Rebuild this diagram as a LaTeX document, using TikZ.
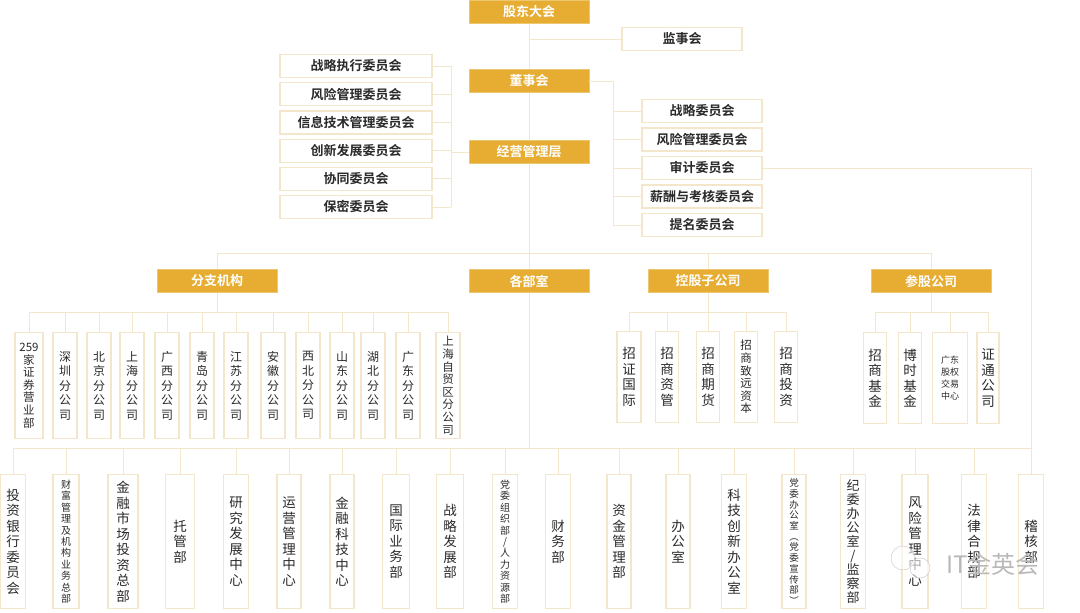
\documentclass[tikz,border=0pt]{standalone}
\usepackage{fontspec}
\setmainfont{Noto Sans CJK SC}[BoldFont={Noto Sans CJK SC Bold}]
\definecolor{goldc}{HTML}{E6AD32}
\definecolor{linec}{HTML}{F4E6CB}
\definecolor{txtc}{HTML}{2A2A2A}

\tikzset{
  conn/.style={draw=linec, line width=1pt},
  goldbox/.style={fill=goldc, draw=goldc!70!white, text=white, inner sep=0pt,
    minimum width=120pt, minimum height=23pt, font=\bfseries\fontsize{13}{13}\selectfont},
  combox/.style={draw=linec, line width=1.2pt, fill=white, text=txtc, inner sep=0pt,
    minimum height=23pt, font=\bfseries\fontsize{13}{13}\selectfont},
  vbox/.style={draw=linec, line width=1.2pt, fill=white, text=txtc, anchor=north,
    align=center, inner sep=0pt},
  vmid/.style={font=\fontsize{12}{14.5}\selectfont},
  vlong/.style={font=\fontsize{11.5}{12.6}\selectfont},
  vtall/.style={font=\fontsize{13}{14}\selectfont},
  vbig/.style={font=\fontsize{13.5}{15.5}\selectfont},
  vsmall/.style={font=\fontsize{10}{11.4}\selectfont},
  vxsmall/.style={font=\fontsize{9.5}{10.7}\selectfont},
  vtiny/.style={font=\fontsize{9}{12}\selectfont}
}

\begin{document}
\begin{tikzpicture}[x=1pt,y=-1pt]
\useasboundingbox (0,0) rectangle (1080,613);

% governance
\node[goldbox] (gd) at (529,12) {股东大会};
\node[combox, minimum width=120pt] (jsh) at (682,39) {监事会};
\node[goldbox] (dsh) at (529,81) {董事会};
\node[goldbox] (jy) at (529,152) {经营管理层};

\foreach \t [count=\i] in {战略执行委员会,风险管理委员会,信息技术管理委员会,创新发展委员会,协同委员会,保密委员会} {
    \node[combox, minimum width=152pt] (lc\i) at (356,66+\i*28.2-28.2) {\t};
}
\foreach \t [count=\i] in {战略委员会,风险管理委员会,审计委员会,薪酬与考核委员会,提名委员会} {
    \node[combox, minimum width=120pt] (rc\i) at (702,111+\i*28.5-28.5) {\t};
}

% second level
\node[goldbox] (fz) at (217,281) {分支机构};
\node[goldbox] (bm) at (529,281) {各部室};
\node[goldbox] (kg) at (708,281) {控股子公司};
\node[goldbox] (cg) at (931,281) {参股公司};

% branches
\foreach \t/\x/\w/\s [count=\i] in {{259\\家\\证\\券\\营\\业\\部}/29/28/vlong, {深\\圳\\分\\公\\司}/65/24/vmid,
    {北\\京\\分\\公\\司}/99/24/vmid, {上\\海\\分\\公\\司}/132/24/vmid, {广\\西\\分\\公\\司}/167/24/vmid,
    {青\\岛\\分\\公\\司}/202/24/vmid, {江\\苏\\分\\公\\司}/236/24/vmid, {安\\徽\\分\\公\\司}/273/24/vmid,
    {西\\北\\分\\公\\司}/308/24/vmid, {山\\东\\分\\公\\司}/342/24/vmid, {湖\\北\\分\\公\\司}/373/24/vmid,
    {广\\东\\分\\公\\司}/408/24/vmid, {上\\海\\自\\贸\\区\\分\\公\\司}/448/24/vlong} {
    \node[vbox, \s, minimum width=\w pt, minimum height=106pt] (br\i) at (\x,332) {\t};
}

% subsidiaries
\foreach \t/\x/\w/\s [count=\i] in {{招\\证\\国\\际}/629/24/vbig, {招\\商\\资\\管}/667/23/vbig,
    {招\\商\\期\\货}/708/23/vbig, {招\\商\\致\\远\\资\\本}/746/23/vlong, {招\\商\\投\\资}/786/23/vbig} {
    \node[vbox, \s, minimum width=\w pt, minimum height=91pt] (kz\i) at (\x,331) {\t};
}
\foreach \t/\x/\w/\s [count=\i] in {{招\\商\\基\\金}/875/23/vbig, {博\\时\\基\\金}/910/23/vbig,
    {广东\\股权\\交易\\中心}/950/35/vtiny, {证\\通\\公\\司}/988/22/vbig} {
    \node[vbox, \s, minimum width=\w pt, minimum height=91pt] (cz\i) at (\x,332) {\t};
}

% departments
\foreach \t/\x/\w/\s [count=\i] in {{投\\资\\银\\行\\委\\员\\会}/13/25/vbig,
    {财\\富\\管\\理\\及\\机\\构\\业\\务\\总\\部}/66/26/vsmall,
    {金\\融\\市\\场\\投\\资\\总\\部}/123/30/vbig, {托\\管\\部}/180/29/vbig,
    {研\\究\\发\\展\\中\\心}/236/25/vbig, {运\\营\\管\\理\\中\\心}/289/24/vbig,
    {金\\融\\科\\技\\中\\心}/342/24/vbig, {国\\际\\业\\务\\部}/396/27/vbig,
    {战\\略\\发\\展\\部}/450/27/vbig, {党\\委\\组\\织\\部\\/\\人\\力\\资\\源\\部}/505/25/vsmall,
    {财\\务\\部}/558/25/vbig, {资\\金\\管\\理\\部}/619/24/vbig, {办\\公\\室}/678/24/vbig,
    {科\\技\\创\\新\\办\\公\\室}/734/25/vbig,
    {党\\委\\办\\公\\室\\︵\\党\\委\\宣\\传\\部\\︶}/794/24/vxsmall,
    {纪\\委\\办\\公\\室\\/\\监\\察\\部}/853/25/vtall, {风\\险\\管\\理\\中\\心}/915/26/vbig,
    {法\\律\\合\\规\\部}/974/25/vbig, {稽\\核\\部}/1031/25/vbig} {
    \node[vbox, \s, minimum width=\w pt, minimum height=134pt] (d\i) at (\x,474) {\t};
}

% connectors
\coordinate (lbus) at (451,0);
\coordinate (rbus) at (613,0);
\coordinate (rside) at (1031,0);
\coordinate (b2) at (0,253);
\coordinate (b3) at (0,312);
\coordinate (b4) at (0,448);

\draw[conn] (gd) -- (dsh) -- (jy) -- (bm);
\draw[conn] (jsh.west) -- (jsh.west -| gd);
\foreach \i in {1,...,6} {
    \draw[conn] (lc\i.east) -- (lc\i.east -| lbus);
}
\draw[conn] (lc1.east -| lbus) -- (lc6.east -| lbus);
\draw[conn] (jy.west) -- (jy.west -| lbus);
\draw[conn] (dsh.east) -- (dsh.east -| rbus) -- (rc5.west -| rbus);
\foreach \i in {1,...,5} {
    \draw[conn] (rc\i.west) -- (rc\i.west -| rbus);
}
\draw[conn] (rc3.east) -- (rc3.east -| rside) -- (d19.north);

\draw[conn] (fz.north) -- (fz.north |- b2) -- (cg.north |- b2) -- (cg.north);
\draw[conn] (kg.north) -- (kg.north |- b2);

\draw[conn] (fz.south) -- (fz.south |- b3);
\draw[conn] (br1.north |- b3) -- (br13.north |- b3);
\foreach \i in {1,...,13} {
    \draw[conn] (br\i.north) -- (br\i.north |- b3);
}
\draw[conn] (kg.south) -- (kg.south |- b3);
\draw[conn] (kz1.north |- b3) -- (kz5.north |- b3);
\foreach \i in {1,...,5} {
    \draw[conn] (kz\i.north) -- (kz\i.north |- b3);
}
\draw[conn] (cg.south) -- (cg.south |- b3);
\draw[conn] (cz1.north |- b3) -- (cz4.north |- b3);
\foreach \i in {1,...,4} {
    \draw[conn] (cz\i.north) -- (cz\i.north |- b3);
}

\draw[conn] (bm.south) -- (bm.south |- b4);
\draw[conn] (d1.north |- b4) -- (d19.north |- b4);
\foreach \i in {1,...,18} {
    \draw[conn] (d\i.north) -- (d\i.north |- b4);
}

% watermark
\draw[gray!45, fill=white, fill opacity=0.6] (903,558) circle (12pt);
\draw[gray!45, fill=white, fill opacity=0.6] (920,568) circle (10pt);
\node[text=gray!55, font=\fontsize{24}{24}\selectfont, inner sep=0pt] (wm) at (993,564) {IT金英会};
\end{tikzpicture}
\end{document}
